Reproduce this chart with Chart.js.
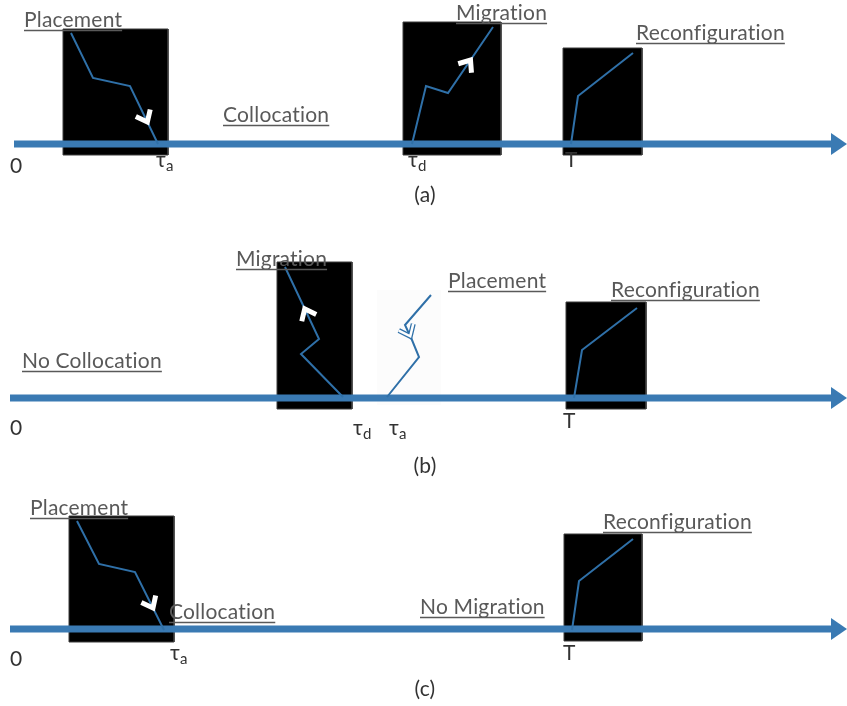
<!DOCTYPE html>
<html>
<head>
<meta charset="utf-8">
<script src="https://cdn.jsdelivr.net/npm/chart.js@4.4.1/dist/chart.umd.min.js"></script>
<style>
  html, body { margin: 0; padding: 0; background: #fff; }
  #c { display: block; }
</style>
</head>
<body>
<canvas id="c" width="847" height="706"></canvas>
<script>
// 시간축 (a), (b), (c)
const axisY      = [144, 398, 629];
const axisStartX = [14, 10, 10];
const axisEndX   = 831;
const arrowTipX  = 847;

// 검은 박스 [x1, x2, yTop, yBottom]
const boxesA = [[63, 168, 29, 155], [403, 501, 22, 155], [563, 642, 48, 155]];
const boxesB = [[277, 352, 262, 409], [566, 646, 302, 409]];
const boxesC = [[69, 174, 516, 642], [564, 642, 534, 641]];
const faintBoxB = [377, 441, 290, 405];

// 경로 (placement / migration / reconfiguration)
const placeA  = [[71, 33], [93, 78], [130, 86], [158, 144]];
const migrA   = [[412, 144], [426, 86], [448, 93], [493, 27]];
const reconfA = [[571, 144], [578, 96], [633, 53]];
const migrB   = [[343, 397], [301, 354], [319, 339], [285, 267]];
const placeB  = [[431, 295], [405, 325], [412, 340], [419, 357], [387, 397]];
const reconfB = [[574, 398], [582, 350], [637, 308]];
const placeC  = [[77, 521], [99, 564], [135, 572], [164, 630]];
const reconfC = [[572, 630], [579, 581], [633, 539]];

// 화살촉 위치 [경로, 구간, 비율, 속이 빈 모양]
const chevrons = [
  [placeA, 2, 0.62, false],
  [migrA, 2, 0.50, false],
  [migrB, 2, 0.42, false],
  [placeB, 1, 0.75, true],
  [placeC, 2, 0.62, false]
];

// 라벨
const actionLabels = ["Placement", "Collocation", "Migration", "Reconfiguration",
                      "Migration", "No Collocation", "Placement", "Reconfiguration",
                      "Placement", "Collocation", "No Migration", "Reconfiguration"];
const actionPos = [[24, 27], [223, 122], [456, 20], [636, 40],
                   [236, 266], [22, 368], [448, 288], [611, 297],
                   [30, 515], [169, 619], [420, 614], [603, 529]];
const timeLabels = [["0", ""], ["τ", "a"], ["τ", "d"], ["T", ""],
                    ["0", ""], ["τ", "d"], ["τ", "a"], ["T", ""],
                    ["0", ""], ["τ", "a"], ["T", ""]];
const timePos = [[10, 173], [156, 167], [408, 167], [565, 167],
                 [10, 435], [353, 435], [389, 435], [563, 428],
                 [10, 666], [170, 660], [563, 660]];
const panelLabels = ["(a)", "(b)", "(c)"];
const panelPos = [[425, 202], [425, 473], [425, 696]];

const BLUE = "#3a7ab3";
const PATH_BLUE = "#2f70a8";
const LABEL_GRAY = "#595959";
const FONT = "Lato, 'Noto Sans', 'DejaVu Sans', sans-serif";

function pts(list) {
  return list.map(function(p) { return {x: p[0], y: p[1]}; });
}
function rectPts(b) {
  return [{x: b[0], y: b[2]}, {x: b[1], y: b[2]}, {x: b[1], y: b[3]}, {x: b[0], y: b[3]}, {x: b[0], y: b[2]}];
}

var datasets = [];

// 박스
boxesA.concat(boxesB, boxesC).forEach(function(b) {
  datasets.push({
    data: rectPts(b), fill: 'shape', backgroundColor: "#000",
    borderColor: "#3c3c3c", borderWidth: 1, pointRadius: 0, order: 4
  });
});
datasets.push({
  data: rectPts(faintBoxB), fill: 'shape', backgroundColor: "rgba(0,0,0,0.012)",
  borderWidth: 0, pointRadius: 0, order: 5
});

// 시간축 + 화살표
for (var i = 0; i < axisY.length; i++) {
  datasets.push({
    data: [{x: axisStartX[i], y: axisY[i]}, {x: axisEndX, y: axisY[i]}],
    borderColor: BLUE, borderWidth: 7, pointRadius: 0, fill: false, order: 2
  });
  datasets.push({
    data: [{x: axisEndX, y: axisY[i] - 11}, {x: arrowTipX, y: axisY[i]}, {x: axisEndX, y: axisY[i] + 11}, {x: axisEndX, y: axisY[i] - 11}],
    fill: 'shape', backgroundColor: BLUE, borderColor: BLUE, borderWidth: 0, pointRadius: 0, order: 2
  });
}

// 경로
[placeA, migrA, reconfA, migrB, placeB, reconfB, placeC, reconfC].forEach(function(p) {
  datasets.push({
    data: pts(p), borderColor: PATH_BLUE, borderWidth: 2, pointRadius: 0,
    fill: false, order: 1, borderJoinStyle: 'miter'
  });
});

// 화살촉 (경로 방향 기준)
chevrons.forEach(function(c) {
  var a = c[0][c[1]], b = c[0][c[1] + 1];
  var dx = b[0] - a[0], dy = b[1] - a[1];
  var len = Math.sqrt(dx * dx + dy * dy);
  var ux = dx / len, uy = dy / len;
  var tx = a[0] + dx * c[2], ty = a[1] + dy * c[2];
  var L = 10, W = 8;
  var arm = [
    {x: tx - ux * L - uy * W, y: ty - uy * L + ux * W},
    {x: tx, y: ty},
    {x: tx - ux * L + uy * W, y: ty - uy * L - ux * W}
  ];
  if (c[3]) {
    datasets.push({data: arm, borderColor: PATH_BLUE, borderWidth: 5, pointRadius: 0, fill: false, order: 0});
    datasets.push({data: arm, borderColor: "#fff", borderWidth: 2.5, pointRadius: 0, fill: false, order: -1});
  } else {
    datasets.push({data: arm, borderColor: "#fff", borderWidth: 5, pointRadius: 0, fill: false, order: 0});
  }
});

// 텍스트 그리기
const textPlugin = {
  id: "diagramText",
  afterDatasetsDraw: function(chart) {
    const ctx = chart.ctx;
    const xs = chart.scales.x, ys = chart.scales.y;
    ctx.save();
    ctx.textBaseline = "alphabetic";
    ctx.textAlign = "left";
    // ti 합자 방지
    if ("letterSpacing" in ctx) ctx.letterSpacing = "0.2px";

    ctx.font = "21px " + FONT;
    ctx.fillStyle = LABEL_GRAY;
    ctx.strokeStyle = LABEL_GRAY;
    ctx.lineWidth = 1.4;
    actionLabels.forEach(function(t, i) {
      var x = xs.getPixelForValue(actionPos[i][0]);
      var y = ys.getPixelForValue(actionPos[i][1]);
      ctx.fillText(t, x, y);
      var w = ctx.measureText(t).width;
      ctx.beginPath();
      ctx.moveTo(x, y + 3.5);
      ctx.lineTo(x + w, y + 3.5);
      ctx.stroke();
    });

    ctx.fillStyle = "#333";
    timeLabels.forEach(function(t, i) {
      var x = xs.getPixelForValue(timePos[i][0]);
      var y = ys.getPixelForValue(timePos[i][1]);
      ctx.font = "21px " + FONT;
      ctx.fillText(t[0], x, y);
      if (t[1]) {
        var w = ctx.measureText(t[0]).width;
        ctx.font = "15px " + FONT;
        ctx.fillText(t[1], x + w, y + 4);
      }
    });

    ctx.font = "21px " + FONT;
    ctx.textAlign = "center";
    panelLabels.forEach(function(t, i) {
      ctx.fillText(t, xs.getPixelForValue(panelPos[i][0]), ys.getPixelForValue(panelPos[i][1]));
    });
    ctx.restore();
  }
};

new Chart(document.getElementById("c").getContext("2d"), {
  type: "line",
  data: { datasets: datasets },
  options: {
    responsive: false,
    animation: false,
    devicePixelRatio: 1,
    layout: { padding: 0 },
    plugins: { legend: { display: false }, tooltip: { enabled: false } },
    elements: { line: { tension: 0, capBezierPoints: false }, point: { radius: 0 } },
    scales: {
      x: { type: "linear", min: 0, max: 847, display: false },
      y: { type: "linear", min: 0, max: 706, reverse: true, display: false }
    }
  },
  plugins: [textPlugin]
});
</script>
</body>
</html>
